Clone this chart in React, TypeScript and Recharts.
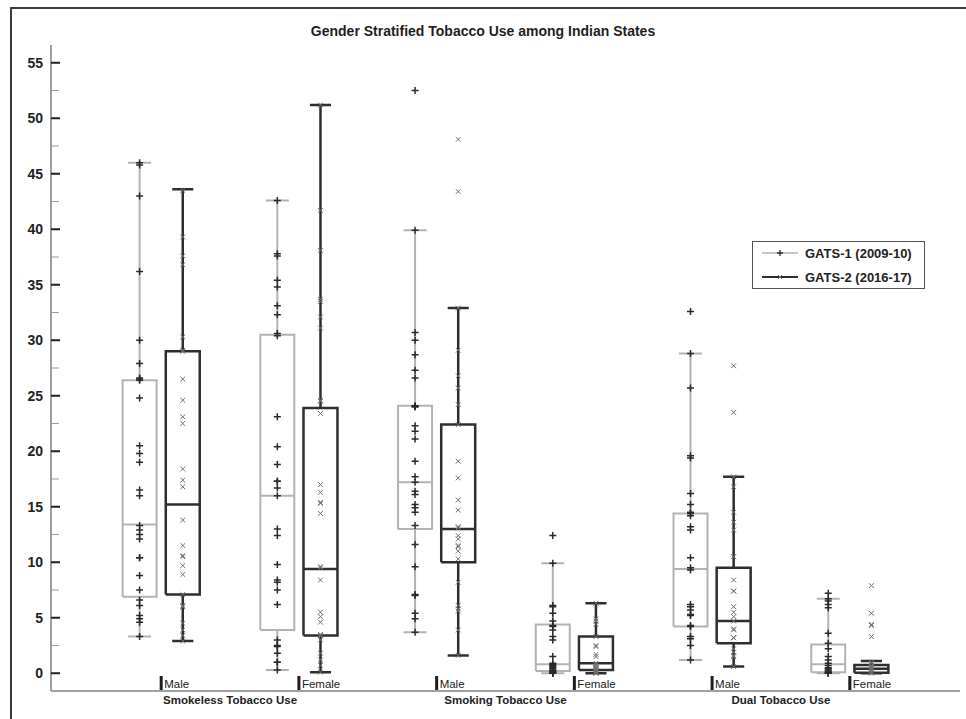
import React from 'react';
import { ComposedChart, Line, Scatter, XAxis, YAxis, Legend } from 'recharts';

const FONT = 'Liberation Sans, Arial, Helvetica, sans-serif';

const groupLabels = ['Smokeless Tobacco Use', 'Smoking Tobacco Use', 'Dual Tobacco Use'];
const genderLabels = ['Male', 'Female'];
const surveyLabels = ['GATS-1 (2009-10)', 'GATS-2 (2016-17)'];
const yTicks = [0, 2.5, 5, 7.5, 10, 12.5, 15, 17.5, 20, 22.5, 25, 27.5, 30, 32.5, 35, 37.5, 40, 42.5, 45, 47.5, 50, 52.5, 55];

// Box statistics, order: Smokeless M, Smokeless F, Smoking M, Smoking F, Dual M, Dual F
const gats1Low = [3.3, 0.3, 3.7, 0, 1.2, 0];
const gats1Q1 = [6.9, 3.9, 13.0, 0.2, 4.2, 0.1];
const gats1Median = [13.4, 16.0, 17.2, 0.8, 9.4, 0.8];
const gats1Q3 = [26.4, 30.5, 24.1, 4.4, 14.4, 2.6];
const gats1High = [46.0, 42.6, 39.9, 9.9, 28.8, 6.7];

const gats2Low = [2.9, 0.1, 1.6, 0, 0.6, 0];
const gats2Q1 = [7.1, 3.4, 10.0, 0.3, 2.7, 0.05];
const gats2Median = [15.2, 9.4, 13.0, 0.9, 4.7, 0.4];
const gats2Q3 = [29.0, 23.9, 22.4, 3.3, 9.5, 0.75];
const gats2High = [43.6, 51.2, 32.9, 6.3, 17.7, 1.1];

// State-level values (GATS-1)
const g1SmokelessMale = [46.0, 45.8, 43.0, 36.2, 30.0, 27.9, 26.6, 26.5, 26.4, 24.8, 20.5, 19.8, 19.0, 16.5, 16.0, 13.3, 12.9, 12.5, 12.1, 10.4, 10.4, 8.8, 7.5, 6.6, 6.1, 5.2, 4.9, 4.6, 3.3];
const g1SmokelessFemale = [42.6, 37.8, 37.6, 35.4, 34.8, 33.1, 32.3, 30.6, 30.4, 23.1, 20.4, 18.8, 17.3, 17.3, 16.7, 16.0, 13.0, 12.4, 9.8, 8.4, 8.2, 7.5, 6.2, 3.0, 2.5, 2.4, 1.8, 1.0, 1.0, 0.3];
const g1SmokingMale = [52.5, 39.9, 30.7, 30.0, 28.7, 27.3, 26.6, 24.1, 24.0, 24.0, 22.3, 21.8, 21.1, 19.1, 17.7, 17.2, 16.4, 16.1, 15.2, 14.9, 14.5, 13.3, 11.6, 9.6, 7.1, 7.0, 5.4, 4.9, 3.7];
const g1SmokingFemale = [12.4, 9.9, 6.1, 6.0, 5.4, 4.7, 4.3, 4.2, 3.9, 3.3, 3.0, 1.5, 0.9, 0.8, 0.7, 0.6, 0.5, 0.4, 0.3, 0.2, 0.2, 0.1, 0.1, 0.0, 0.0, 0.0];
const g1DualMale = [32.6, 28.8, 25.7, 19.6, 19.4, 16.2, 15.2, 14.5, 14.4, 14.2, 13.2, 12.9, 10.4, 9.5, 9.3, 6.2, 6.0, 5.7, 5.3, 5.2, 4.3, 4.2, 3.3, 3.1, 2.5, 1.2];
const g1DualFemale = [7.2, 6.7, 6.5, 6.2, 5.9, 3.6, 2.7, 2.2, 1.5, 1.2, 0.9, 0.7, 0.5, 0.4, 0.3, 0.2, 0.1, 0.1, 0.0, 0.0];

// State-level values (GATS-2)
const g2SmokelessMale = [43.5, 39.3, 37.6, 36.8, 30.3, 29.1, 29.0, 26.5, 24.6, 23.1, 22.5, 18.4, 17.4, 16.8, 13.8, 11.5, 10.6, 10.5, 9.7, 8.9, 7.1, 6.0, 6.0, 6.1, 4.5, 3.9, 3.4, 2.9];
const g2SmokelessFemale = [51.2, 41.7, 38.1, 33.7, 33.5, 32.1, 31.1, 24.6, 24.5, 23.4, 17.0, 16.3, 15.4, 15.3, 14.4, 9.6, 9.5, 8.4, 5.5, 5.1, 4.6, 3.5, 3.4, 3.0, 1.8, 1.2, 0.7, 0.1];
const g2SmokingMale = [48.1, 43.4, 32.9, 29.1, 26.8, 25.7, 24.2, 22.4, 19.1, 17.6, 15.6, 14.7, 13.2, 13.1, 12.4, 12.1, 11.5, 11.4, 11.0, 10.3, 8.2, 6.1, 5.8, 5.6, 3.9, 1.6];
const g2SmokingFemale = [6.3, 4.9, 4.7, 4.4, 3.3, 2.5, 2.4, 1.7, 1.5, 0.9, 0.8, 0.7, 0.6, 0.5, 0.4, 0.3, 0.2, 0.1, 0.1, 0.0, 0.0];
const g2DualMale = [27.7, 23.5, 17.7, 16.8, 14.5, 13.6, 12.9, 10.5, 8.4, 7.4, 7.4, 6.0, 5.5, 5.1, 4.7, 4.0, 3.9, 3.2, 3.2, 3.2, 2.2, 1.9, 1.6, 1.5, 0.6];
const g2DualFemale = [7.9, 5.4, 4.4, 4.3, 3.3, 1.0, 0.9, 0.7, 0.6, 0.5, 0.4, 0.3, 0.2, 0.1, 0.0];

const gats1Points = [g1SmokelessMale, g1SmokelessFemale, g1SmokingMale, g1SmokingFemale, g1DualMale, g1DualFemale];
const gats2Points = [g2SmokelessMale, g2SmokelessFemale, g2SmokingMale, g2SmokingFemale, g2DualMale, g2DualFemale];

// layout helpers (category slots on a numeric axis)
const PAIR_STEP = 3;
const SURVEY_OFFSET = 0.47;
const BOX_HALF = 0.37;
const pairTicks = [0, 1, 2, 3, 4, 5].map((i) => i * PAIR_STEP);
const groupTicks = [0, 1, 2].map((g) => g * 2 * PAIR_STEP + PAIR_STEP / 2);
const slotX = (i: number, s: number) => i * PAIR_STEP + (s === 0 ? -SURVEY_OFFSET : SURVEY_OFFSET);

type Pt = { x: number; y: number | null };

function boxPath(c: number, lo: number, q1: number, med: number, q3: number, hi: number, capHalf: number): Pt[] {
  const l = c - BOX_HALF;
  const r = c + BOX_HALF;
  return [
    { x: l, y: q1 }, { x: r, y: q1 }, { x: r, y: q3 }, { x: l, y: q3 }, { x: l, y: q1 },
    { x: c, y: null },
    { x: l, y: med }, { x: r, y: med },
    { x: c, y: null },
    { x: c, y: lo }, { x: c, y: q1 },
    { x: c, y: null },
    { x: c, y: q3 }, { x: c, y: hi },
    { x: c, y: null },
    { x: c - capHalf, y: lo }, { x: c + capHalf, y: lo },
    { x: c, y: null },
    { x: c - capHalf, y: hi }, { x: c + capHalf, y: hi },
  ];
}

const gats1Boxes = gats1Low.map((_, i) =>
  boxPath(slotX(i, 0), gats1Low[i], gats1Q1[i], gats1Median[i], gats1Q3[i], gats1High[i], 0.25)
);
const gats2Boxes = gats2Low.map((_, i) =>
  boxPath(slotX(i, 1), gats2Low[i], gats2Q1[i], gats2Median[i], gats2Q3[i], gats2High[i], 0.23)
);

const gats1Scatter = gats1Points.flatMap((arr, i) => arr.map((v) => ({ x: slotX(i, 0), y: v })));
const gats2Scatter = gats2Points.flatMap((arr, i) => arr.map((v) => ({ x: slotX(i, 1), y: v })));

const GRAY_BOX = '#b2b2b2';
const DARK_BOX = '#2e2e2e';
const PLUS_COLOR = '#2a2a2a';
const CROSS_COLOR = '#6e6e6e';

const PlusShape = (props: any) => {
  const { cx, cy } = props;
  if (cx == null || cy == null) return null;
  const h = 3.5;
  return (
    <path d={`M${cx - h},${cy}H${cx + h}M${cx},${cy - h}V${cy + h}`} stroke={PLUS_COLOR} strokeWidth={1.5} fill="none" />
  );
};

const CrossShape = (props: any) => {
  const { cx, cy } = props;
  if (cx == null || cy == null) return null;
  const h = 2.4;
  return (
    <path
      d={`M${cx - h},${cy - h}L${cx + h},${cy + h}M${cx - h},${cy + h}L${cx + h},${cy - h}`}
      stroke={CROSS_COLOR}
      strokeWidth={1}
      fill="none"
    />
  );
};

const YTick = (props: any) => {
  const { x, y, payload } = props;
  const v = payload.value;
  const major = Math.abs(v % 5) < 1e-6;
  return (
    <g>
      <line x1={x} x2={x + (major ? 9 : 8)} y1={y} y2={y} stroke={major ? '#1e1e1e' : '#9a9a9a'} strokeWidth={major ? 2 : 1} />
      {major && (
        <text x={x - 8} y={y} dy={5} textAnchor="end" fontSize={14} fontWeight="bold" fill="#222" fontFamily={FONT}>
          {v}
        </text>
      )}
    </g>
  );
};

const XTick = (props: any) => {
  const { x, y, payload } = props;
  const v = payload.value;
  const pi = pairTicks.findIndex((t) => Math.abs(t - v) < 1e-6);
  if (pi >= 0) {
    return (
      <g>
        <rect x={x - 1.5} y={y - 15} width={3} height={14} fill="#1e1e1e" />
        <text x={x + 3} y={y - 3} fontSize={11.5} fill="#222" fontFamily={FONT}>
          {genderLabels[pi % 2]}
        </text>
      </g>
    );
  }
  const gi = groupTicks.findIndex((t) => Math.abs(t - v) < 1e-6);
  return (
    <text x={x} y={y + 13} textAnchor="middle" fontSize={11.5} fontWeight="bold" fill="#222" fontFamily={FONT}>
      {gi >= 0 ? groupLabels[gi] : ''}
    </text>
  );
};

const LegendContent = () => (
  <div
    style={{
      width: 173,
      height: 48,
      boxSizing: 'border-box',
      border: '1.5px solid #555',
      background: '#fff',
      fontFamily: FONT,
      fontWeight: 'bold',
      fontSize: 13,
      color: '#222',
      position: 'relative',
    }}
  >
    {surveyLabels.map((label, i) => (
      <div key={label} style={{ position: 'absolute', left: 8, top: i === 0 ? 3 : 27, height: 16, display: 'flex', alignItems: 'center' }}>
        <svg width={38} height={16} style={{ display: 'block' }}>
          <line x1={1} x2={37} y1={8} y2={8} stroke={i === 0 ? GRAY_BOX : DARK_BOX} strokeWidth={i === 0 ? 1.5 : 2} />
          {i === 0 ? (
            <path d="M16,8H22M19,5V11" stroke={PLUS_COLOR} strokeWidth={1.3} />
          ) : (
            <path d="M17,6L21,10M17,10L21,6" stroke={CROSS_COLOR} strokeWidth={1} />
          )}
        </svg>
        <span style={{ marginLeft: 6, whiteSpace: 'nowrap' }}>{label}</span>
      </div>
    ))}
  </div>
);

export default function App() {
  return (
    <div style={{ position: 'absolute', left: 0, top: 0, width: 966, height: 719, background: '#fff', overflow: 'hidden' }}>
      <div style={{ position: 'absolute', left: 10, top: 7, width: 970, height: 730, borderTop: '2px solid #3a3a3a', borderLeft: '2px solid #3a3a3a' }} />
      <div
        style={{
          position: 'absolute',
          left: 283,
          width: 400,
          top: 23,
          textAlign: 'center',
          fontFamily: FONT,
          fontWeight: 'bold',
          fontSize: 14,
          color: '#1e1e1e',
          whiteSpace: 'nowrap',
        }}
      >
        Gender Stratified Tobacco Use among Indian States
      </div>
      <div style={{ position: 'absolute', left: 0, top: 0 }}>
        <ComposedChart width={966} height={719} margin={{ top: 45, right: 6, left: 0, bottom: 0 }}>
          <XAxis
            type="number"
            dataKey="x"
            domain={[-2.4, 17.4]}
            allowDataOverflow
            ticks={[...pairTicks, ...groupTicks]}
            interval={0}
            tick={<XTick />}
            tickLine={false}
            tickSize={0}
            tickMargin={0}
            height={28}
            axisLine={{ stroke: '#7f7f7f', strokeWidth: 1.5 }}
          />
          <YAxis
            type="number"
            dataKey="y"
            domain={[-1.6, 56.6]}
            allowDataOverflow
            ticks={yTicks}
            interval={0}
            tick={<YTick />}
            tickLine={false}
            tickSize={0}
            tickMargin={0}
            width={51}
            axisLine={{ stroke: '#7f7f7f', strokeWidth: 1.5 }}
          />
          <Legend
            layout="vertical"
            align="center"
            verticalAlign="middle"
            content={<LegendContent />}
            wrapperStyle={{ position: 'absolute', left: 752, top: 241, width: 173, height: 48 }}
          />
          {gats1Boxes.map((d, i) => (
            <Line
              key={`g1-${i}`}
              data={d}
              dataKey="y"
              type="linear"
              stroke={GRAY_BOX}
              strokeWidth={2}
              dot={false}
              activeDot={false}
              connectNulls={false}
              isAnimationActive={false}
              legendType="none"
            />
          ))}
          {gats2Boxes.map((d, i) => (
            <Line
              key={`g2-${i}`}
              data={d}
              dataKey="y"
              type="linear"
              stroke={DARK_BOX}
              strokeWidth={2.5}
              dot={false}
              activeDot={false}
              connectNulls={false}
              isAnimationActive={false}
              legendType="none"
            />
          ))}
          <Scatter name={surveyLabels[0]} data={gats1Scatter} dataKey="y" shape={<PlusShape />} isAnimationActive={false} />
          <Scatter name={surveyLabels[1]} data={gats2Scatter} dataKey="y" shape={<CrossShape />} isAnimationActive={false} />
        </ComposedChart>
      </div>
    </div>
  );
}
